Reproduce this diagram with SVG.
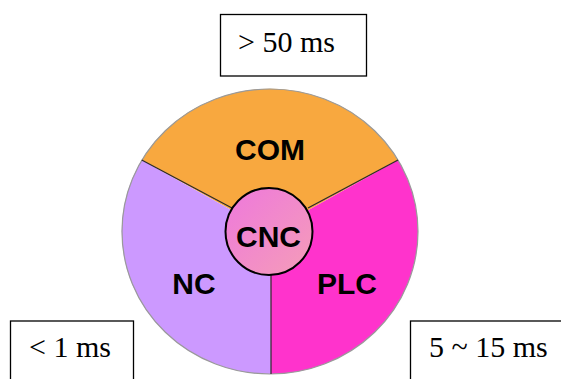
<svg xmlns="http://www.w3.org/2000/svg" width="561" height="379" viewBox="0 0 561 379">
<style>
.lbl{font-family:"Liberation Sans",Arial,sans-serif;font-weight:bold;font-size:30px;fill:#000;text-anchor:middle}
.tm{font-family:"Liberation Serif","Times New Roman",serif;font-size:30px;fill:#000}
.box{fill:#fff;stroke:#000;stroke-width:1.3}
.div{stroke:#2a2a2a;stroke-width:1.2;fill:none}
</style>
<defs>
<linearGradient id="cncg" x1="0" y1="0" x2="1" y2="1">
<stop offset="0" stop-color="#EE78DC"/>
<stop offset="1" stop-color="#F59DB8"/>
</linearGradient>
</defs>
<rect width="561" height="379" fill="#fff"/>
<g id="wheel">
<g id="com"><path d="M270 231.5 L141.7 160 A148 142.5 0 0 1 398 160 Z" fill="#F8A83F"/><text class="lbl" x="270" y="160">COM</text></g>
<g id="plc"><path d="M270 231.5 L398 160 A148 142.5 0 0 1 271 374 Z" fill="#FF33CC"/><text class="lbl" x="347" y="294">PLC</text></g>
<g id="nc"><path d="M270 231.5 L271 374 A148 142.5 0 0 1 141.7 160 Z" fill="#CC99FF"/><text class="lbl" x="194" y="294">NC</text></g>
<ellipse cx="270" cy="231.5" rx="148" ry="142.5" fill="none" stroke="#9a9a9a" stroke-width="1.2"/>
</g>
<g id="connectors">
<line class="div" x1="141.7" y1="160" x2="232" y2="208"/>
<line class="div" x1="398" y1="160" x2="308" y2="208"/>
<line class="div" x1="271" y1="275" x2="271" y2="374"/>
</g>
<g id="cnc"><circle cx="269" cy="231.5" r="43.5" fill="url(#cncg)" stroke="#000" stroke-width="2"/><text class="lbl" x="268.5" y="247">CNC</text></g>
<g id="t50"><rect class="box" x="220.5" y="14.5" width="146" height="61.5"/><text class="tm" x="238" y="52">&gt; 50 ms</text></g>
<g id="t1"><rect class="box" x="10.5" y="321" width="123" height="70"/><text class="tm" x="29" y="357">&lt; 1 ms</text></g>
<g id="t15"><rect class="box" x="410.5" y="321" width="160" height="70"/><text class="tm" x="429" y="357">5 ~ 15 ms</text></g>
</svg>
